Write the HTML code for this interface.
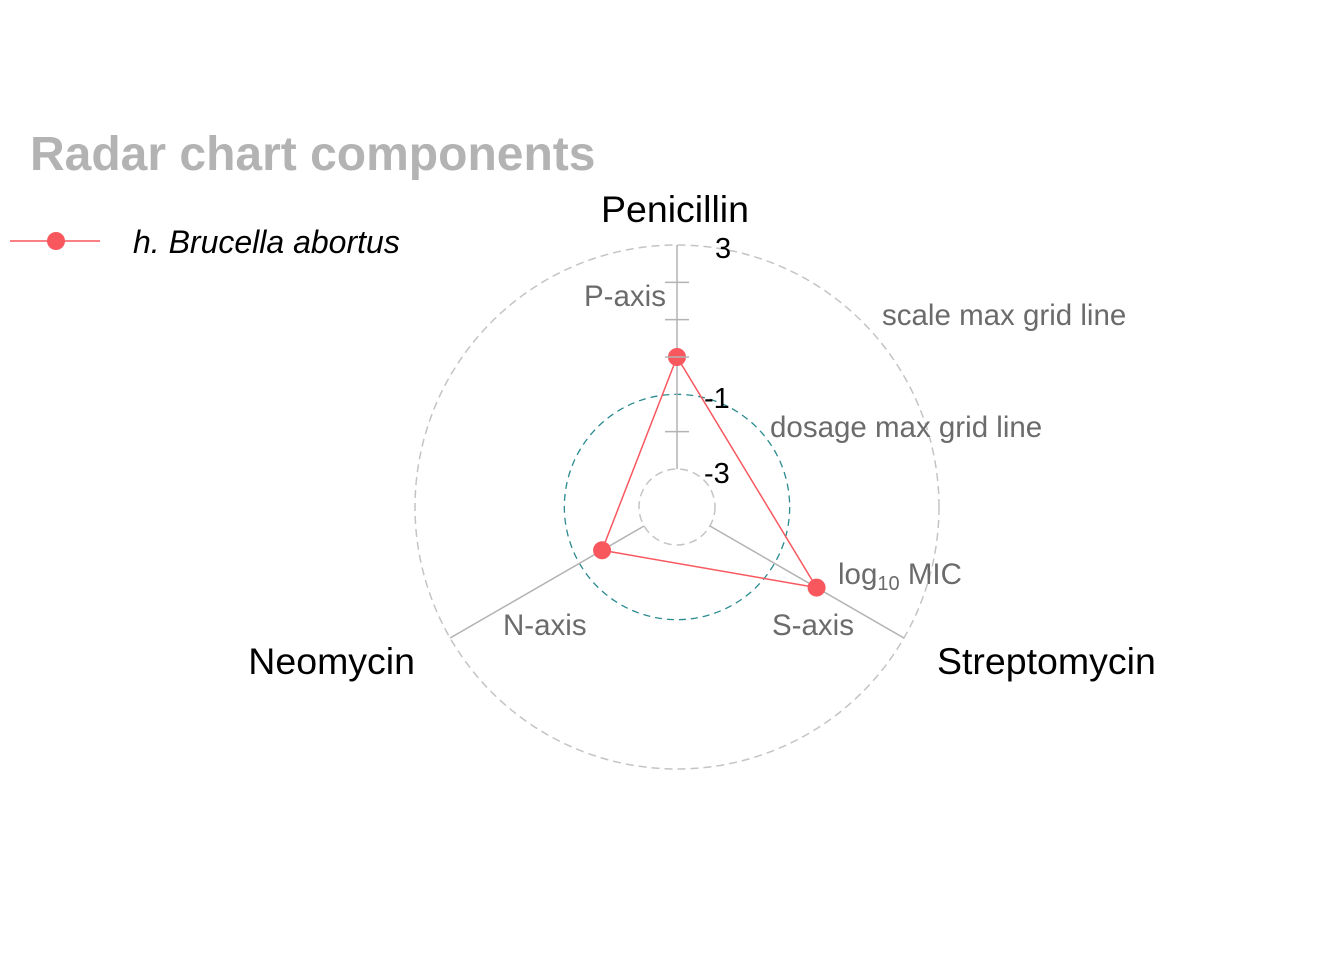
<!DOCTYPE html>
<html><head><meta charset="utf-8"><style>
html,body{margin:0;padding:0;background:#fff}
svg{display:block;font-family:"Liberation Sans",Arial,sans-serif}
</style></head><body>
<svg width="1344" height="960" viewBox="0 0 1344 960">
<text x="30" y="170" font-size="48" font-weight="bold" fill="#b3b3b3">Radar chart components</text>
<g>
<line x1="10" y1="241" x2="100" y2="241" stroke="#f8575e" stroke-width="1.5"/>
<circle cx="56" cy="241" r="9" fill="#f8575e"/>
<text x="133" y="253" font-size="32" font-style="italic" fill="#000">h. Brucella abortus</text>
</g>
<g id="grid"></g>
<g id="marks"></g>
<text x="675" y="222" font-size="37.5" text-anchor="middle">Penicillin</text>
<text x="415" y="674" font-size="37.5" text-anchor="end">Neomycin</text>
<text x="937" y="674" font-size="37.5">Streptomycin</text>
<g font-size="29" fill="#000">
<text x="715" y="258">3</text>
<text x="704" y="408">-1</text>
<text x="704" y="483">-3</text>
</g>
<g font-size="29.5" fill="#6b6b6b">
<text x="584" y="306">P-axis</text>
<text x="882" y="325">scale max grid line</text>
<text x="770" y="437">dosage max grid line</text>
<text x="838" y="584">log<tspan font-size="20" dy="6">10</tspan><tspan dy="-6"> MIC</tspan></text>
<text x="503" y="635">N-axis</text>
<text x="772" y="635">S-axis</text>
</g>
</svg>
<script>
const categories = ["Penicillin", "Streptomycin", "Neomycin"];
const values = [0, 0.3, -1.7];
const tickValues = [2, 1, 0, -2];
const scaleMin = -3, scaleMax = 3, dosageMax = -1;
const cx = 677, cy = 507, r0 = 38, r1 = 262;
const NS = "http://www.w3.org/2000/svg";
function rad(v){ return r0 + (v - scaleMin) * (r1 - r0) / (scaleMax - scaleMin); }
function ang(i){ return -Math.PI/2 + i * 2*Math.PI/categories.length; }
function pt(i, v){ const a = ang(i), r = rad(v); return [cx + r*Math.cos(a), cy + r*Math.sin(a)]; }
function mk(tag, attrs, parent){ const e = document.createElementNS(NS, tag); for (const k in attrs) e.setAttribute(k, attrs[k]); parent.appendChild(e); return e; }
const grid = document.getElementById("grid"), marks = document.getElementById("marks");
let c = mk("circle", {cx:cx, cy:cy, r:r1, fill:"none", stroke:"#c4c4c4", "stroke-width":1.5, "stroke-dasharray":"8 5"}, grid);


c = mk("circle", {cx:cx, cy:cy, r:rad(scaleMin), fill:"none", stroke:"#c4c4c4", "stroke-width":1.5, "stroke-dasharray":"8 5"}, grid);


c = mk("circle", {cx:cx, cy:cy, r:rad(dosageMax), fill:"none", stroke:"#2a8a90", "stroke-width":1.3, "stroke-dasharray":"7 5"}, grid);


categories.forEach((cat, i) => {
  const a = pt(i, scaleMin), b = pt(i, scaleMax);
  const l = mk("line", {x1:a[0], y1:a[1], x2:b[0], y2:b[1], stroke:"#b3b3b3", "stroke-width":1.5}, grid);
  
  
});
const poly = mk("polygon", {points: values.map((v,i)=>pt(i,v).join(",")).join(" "), fill:"none", stroke:"#f8575e", "stroke-width":1.5}, marks);


values.forEach((v, i) => {
  const p = pt(i, v);
  const d = mk("circle", {cx:p[0], cy:p[1], r:9, fill:"#f8575e"}, marks);
  
  
});
tickValues.forEach(t => {
  const p = pt(0, t);
  const tk = mk("line", {x1:p[0]-12, y1:p[1], x2:p[0]+12, y2:p[1], stroke:"#b3b3b3", "stroke-width":1.5}, marks);
  
  
});
</script>
</body></html>
